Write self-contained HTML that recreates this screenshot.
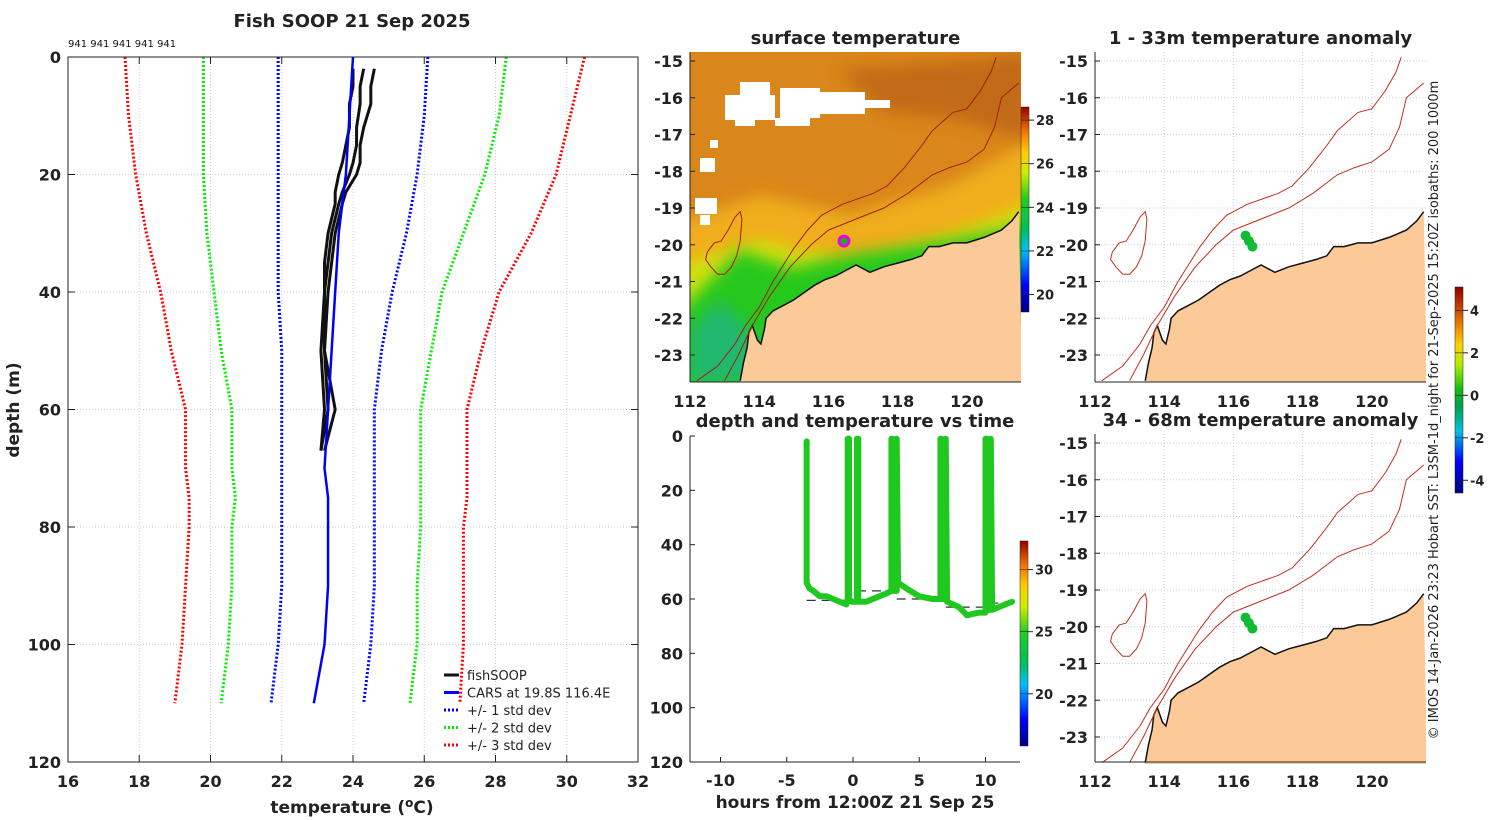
<!DOCTYPE html>
<html><head><meta charset="utf-8"><style>
body{margin:0;background:#fff;}
svg{display:block;font-family:"DejaVu Sans","Liberation Sans",sans-serif;}
.b{font-weight:bold;fill:#222;}
</style></head><body>
<svg id="s" width="1500" height="820" viewBox="0 0 1500 820" xmlns="http://www.w3.org/2000/svg">
<defs>
<linearGradient id="jet" x1="0" y1="1" x2="0" y2="0">
<stop offset="0" stop-color="#00007f"/><stop offset="0.13" stop-color="#0000ff"/><stop offset="0.3" stop-color="#00bfff"/><stop offset="0.4" stop-color="#00c060"/><stop offset="0.55" stop-color="#22cc22"/><stop offset="0.68" stop-color="#ccee00"/><stop offset="0.78" stop-color="#ffcc00"/><stop offset="0.88" stop-color="#ee7700"/><stop offset="1" stop-color="#990000"/></linearGradient>
<linearGradient id="anom" x1="0" y1="1" x2="0" y2="0">
<stop offset="0" stop-color="#00007f"/><stop offset="0.15" stop-color="#0000ff"/><stop offset="0.3" stop-color="#00c0e0"/><stop offset="0.42" stop-color="#00a050"/><stop offset="0.5" stop-color="#11bb11"/><stop offset="0.62" stop-color="#aaee00"/><stop offset="0.72" stop-color="#ffd000"/><stop offset="0.85" stop-color="#dd6600"/><stop offset="1" stop-color="#8b0000"/></linearGradient>
<filter id="bl"><feGaussianBlur stdDeviation="8"/></filter>
<clipPath id="cm"><rect x="690" y="52" width="331" height="330"/></clipPath>
</defs>
<g id="root"></g>
</svg>
<script>
// ---------- left profile data ----------
const depthStd=[0,10,20,30,40,50,60,70,75,80,90,100,110];
const minus3=[17.6,17.7,17.9,18.2,18.6,18.9,19.3,19.3,19.4,19.4,19.3,19.2,19.0];
const minus2=[19.8,19.8,19.8,19.9,20.1,20.3,20.6,20.6,20.7,20.6,20.6,20.5,20.3];
const minus1=[21.9,21.9,21.9,21.9,21.9,22.0,22.0,22.0,22.0,22.0,22.0,21.9,21.7];
const carsMean=[24.0,23.9,23.8,23.6,23.5,23.4,23.3,23.2,23.3,23.3,23.3,23.2,22.9];
const plus1=[26.1,26.0,25.8,25.5,25.1,24.8,24.6,24.6,24.6,24.6,24.6,24.5,24.3];
const plus2=[28.3,28.1,27.7,27.1,26.5,26.2,25.9,25.9,25.9,25.9,25.8,25.8,25.6];
const plus3=[30.5,30.1,29.7,29.0,28.1,27.6,27.2,27.2,27.2,27.1,27.1,27.1,27.0];
const fishDepth=[2,5,8,12,15,18,20,23,25,30,35,40,50,60,67];
const fish1=[24.6,24.5,24.5,24.3,24.2,24.2,24.1,23.8,23.7,23.5,23.4,23.3,23.2,23.5,23.2];
const fish2=[24.3,24.2,24.2,24.1,24.1,24.0,23.9,23.7,23.6,23.4,23.3,23.2,23.2,23.3,23.1];
const fish3=[24.0,24.0,23.9,23.9,23.8,23.7,23.6,23.5,23.5,23.3,23.2,23.2,23.1,23.2,23.1];
const tempTicks=[16,18,20,22,24,26,28,30,32];
const depthTicks=[0,20,40,60,80,100,120];
// ---------- time panel data ----------
const hours=[-3.5,-3.5,-3.3,-3.0,-2.5,-2.0,-1.5,-1.0,-0.5,-0.4,-0.4,-0.3,-0.3,-0.1,0.3,0.3,0.4,0.4,1.0,1.5,2.0,2.5,2.9,2.9,3.0,3.0,3.3,3.3,3.4,4.0,5.0,6.0,6.6,6.6,6.7,6.7,7.0,7.0,7.1,8.0,8.6,9.5,10.0,10.0,10.1,10.1,10.4,10.4,10.5,11.0,12.0];
const depths=[2,54,56,57,59,59,60,61,62,60,1,1,60,61,61,1,1,61,61,60,59,58,57,1,1,57,57,1,54,56,59,60,60,1,1,60,60,1,61,63,66,65,65,1,1,64,64,1,64,63,61];
const bottomStart=[-3.5,0.3,3.3,7.0,10.3];
const bottomEnd=[-0.4,2.9,6.6,10.0,12.4];
const bottomDepth=[60.5,57,60,63,61.5];
const hourTicks=[-10,-5,0,5,10];
// ---------- map data ----------
const coastLon=[113.45,113.55,113.65,113.7,113.8,113.95,114.05,114.15,114.2,114.4,114.7,115.0,115.3,115.6,115.9,116.2,116.5,116.8,117.2,117.6,118.0,118.4,118.7,118.9,119.2,119.6,120.0,120.5,121.0,121.3,121.5];
const coastLat=[-23.7,-23.2,-22.8,-22.4,-22.2,-22.6,-22.7,-22.3,-22.0,-21.8,-21.65,-21.5,-21.3,-21.1,-20.95,-20.85,-20.7,-20.55,-20.75,-20.6,-20.5,-20.4,-20.3,-20.05,-20.05,-19.95,-19.95,-19.8,-19.6,-19.35,-19.1];
const iso200Lon=[112.2,112.8,113.3,113.6,114.0,114.4,115.0,115.4,115.8,116.4,117.3,117.7,118.2,118.7,119.0,119.6,120.0,120.4,120.7,120.85];
const iso200Lat=[-23.7,-23.3,-22.7,-22.2,-21.7,-21.0,-20.1,-19.6,-19.2,-18.9,-18.6,-18.4,-17.9,-17.3,-16.9,-16.4,-16.3,-15.8,-15.3,-14.9];
const iso1000Lon=[113.0,113.4,113.8,114.3,114.9,115.5,116.0,116.8,117.6,118.3,119.0,119.5,120.0,120.5,120.8,121.0,121.5];
const iso1000Lat=[-23.7,-23.0,-22.2,-21.4,-20.6,-20.0,-19.6,-19.3,-19.0,-18.6,-18.1,-17.9,-17.75,-17.4,-16.8,-16.0,-15.6];
const islandLon=[112.5,112.7,112.9,113.1,113.3,113.45,113.5,113.45,113.35,113.2,113.0,112.8,112.6,112.45];
const islandLat=[-20.2,-19.95,-19.9,-19.6,-19.25,-19.1,-19.3,-19.9,-20.3,-20.6,-20.8,-20.8,-20.6,-20.4];
const fishLon=[116.35,116.45,116.55];
const fishLat=[-19.75,-19.9,-20.05];
const lonTicks=[112,114,116,118,120];
const latTicks=[-15,-16,-17,-18,-19,-20,-21,-22,-23];

const NS="http://www.w3.org/2000/svg";
const root=document.getElementById('root');
function el(tag,attrs,parent,txt){const e=document.createElementNS(NS,tag);for(const k in attrs)e.setAttribute(k,attrs[k]);if(txt!==undefined)e.textContent=txt;(parent||root).appendChild(e);return e;}

// ===== LEFT PANEL =====
const L={x0:68,x1:638,y0:57,y1:762};
const tx=t=>L.x0+(t-16)/16*(L.x1-L.x0);
const dy=d=>L.y0+d/120*(L.y1-L.y0);
const gL=el('g',{});


tempTicks.forEach(t=>{
 if(t>16&&t<32){const gl=el('line',{x1:tx(t),x2:tx(t),y1:L.y0,y2:L.y1,stroke:'#c8c8e8','stroke-width':1,'stroke-dasharray':'1,2'},gL);}
 el('line',{x1:tx(t),x2:tx(t),y1:L.y1,y2:L.y1-7,stroke:'#222'},gL);el('line',{x1:tx(t),x2:tx(t),y1:L.y0,y2:L.y0+7,stroke:'#222'},gL);
 const lb=el('text',{x:tx(t),y:L.y1+25,'text-anchor':'middle','font-size':16,class:'b'},gL,t);
 
});
depthTicks.forEach(d=>{
 if(d>0&&d<120){const gl=el('line',{x1:L.x0,x2:L.x1,y1:dy(d),y2:dy(d),stroke:'#c8c8e8','stroke-width':1,'stroke-dasharray':'1,2'},gL);}
 el('line',{x1:L.x0,x2:L.x0+7,y1:dy(d),y2:dy(d),stroke:'#222'},gL);el('line',{x1:L.x1,x2:L.x1-7,y1:dy(d),y2:dy(d),stroke:'#222'},gL);
 const lb=el('text',{x:L.x0-7,y:dy(d)+6,'text-anchor':'end','font-size':16,class:'b'},gL,d);
 
});
function prof(vals,ds,color,w,dash,name){
 const p=el('polyline',{points:vals.map((v,i)=>tx(v)+','+dy(ds[i])).join(' '),fill:'none',stroke:color,'stroke-width':w,'stroke-dasharray':dash||'none'},gL);
 }
prof(minus3,depthStd,'#ff0000',3,'2,2','minus-3-std-line');
prof(plus3,depthStd,'#ff0000',3,'2,2','plus-3-std-line');
prof(minus2,depthStd,'#00ee00',3,'2,2','minus-2-std-line');
prof(plus2,depthStd,'#00ee00',3,'2,2','plus-2-std-line');
prof(minus1,depthStd,'#0000ff',3,'2,2','minus-1-std-line');
prof(plus1,depthStd,'#0000ff',3,'2,2','plus-1-std-line');
prof(fish1,fishDepth,'#111',3,null,'fish-profile-1');
prof(fish2,fishDepth,'#111',3,null,'fish-profile-2');
prof(fish3,fishDepth,'#111',3,null,'fish-profile-3');
prof(carsMean,depthStd,'#0000ff',2.5,null,'cars-mean-line');
el('rect',{x:L.x0,y:L.y0,width:L.x1-L.x0,height:L.y1-L.y0,fill:'none',stroke:'#222'},gL);
let t=el('text',{x:352,y:27,'text-anchor':'middle','font-size':18,class:'b'},gL,'Fish SOOP 21 Sep 2025');
t=el('text',{x:68,y:47,'font-size':10,fill:'#111'},gL,'941 941 941 941 941');
t=el('text',{x:352,y:813,'text-anchor':'middle','font-size':17,class:'b'},gL);t.innerHTML='temperature (<tspan dy="-6" font-size="12">o</tspan><tspan dy="6">C)</tspan>';
t=el('text',{x:19,y:410,'text-anchor':'middle','font-size':17,class:'b',transform:'rotate(-90 19 410)'},gL,'depth (m)');
const leg=[['fishSOOP','#111',null],['CARS at 19.8S 116.4E','#0000ff',null],['+/- 1 std dev','#0000ff','2,2'],['+/- 2 std dev','#00ee00','2,2'],['+/- 3 std dev','#ff0000','2,2']];
leg.forEach((l,i)=>{const y=675+i*17.5;
 el('line',{x1:444,x2:459,y1:y,y2:y,stroke:l[1],'stroke-width':3,'stroke-dasharray':l[2]||'none'},gL);
 const lt=el('text',{x:467,y:y+5,'font-size':13,fill:'#222'},gL,l[0]);});

// ===== MAP helpers =====
function mapper(ox,oy){return {x:lon=>ox+(lon-112)*34.6,y:lat=>oy+(-15-lat)*36.75};}
function pts(m,lons,lats){return lons.map((v,i)=>m.x(v).toFixed(1)+','+m.y(lats[i]).toFixed(1)).join(' ');}
function land(m,g){
 const lp=el('polygon',{points:pts(m,coastLon,coastLat)+' '+m.x(121.6)+','+m.y(-23.8)+' '+m.x(113.45)+','+m.y(-23.8),fill:'#fcca98',stroke:'none'},g);
 el('polyline',{points:pts(m,coastLon,coastLat),fill:'none',stroke:'#111','stroke-width':1.5},g);
}
function drawMap(ox,oy,box,title,isSST,name){
 const g=el('g',{});
 const m=mapper(ox,oy);
 const gc=el('g',{'clip-path':'url(#cm)',transform:'translate('+(box.x-690)+','+(box.y-52)+')'},g);
 const mm=mapper(690,61);
 if(isSST){
  el('rect',{x:box.x,y:box.y,width:box.w,height:box.h,fill:'#d9861a'},gc);
  el('polygon',{points:'660,230 760,195 850,215 950,185 1050,130 1050,420 660,420',fill:'#f0ae1a',filter:'url(#bl)'},gc);
  el('polygon',{points:'660,270 760,240 850,262 950,235 1050,195 1050,420 660,420',fill:'#d2e010',filter:'url(#bl)'},gc);
  el('polygon',{points:'660,330 740,250 790,268 850,255 950,240 1050,222 1050,420 660,420',fill:'#28c81e',filter:'url(#bl)'},gc);
  el('polygon',{points:'690,330 720,300 750,330 770,380 690,385',fill:'#24b870',filter:'url(#bl)'},gc);
  el('polygon',{points:'840,70 980,60 1030,52 1030,140 960,120 880,110',fill:'#b85e12',filter:'url(#bl)',opacity:0.7},gc);
  [[725,95,50,25],[740,82,30,15],[780,88,40,30],[820,92,45,22],[860,100,30,8],[735,118,20,8],[700,158,15,14],[695,198,22,16],[700,215,10,10],[775,118,35,8],[710,140,8,8]].forEach(c=>{const r=el('rect',{x:c[0],y:c[1],width:c[2],height:c[3],fill:'#fff'},gc);});
  land(mm,gc);
  el('polyline',{points:pts(mm,iso200Lon,iso200Lat),fill:'none',stroke:'#a02010','stroke-width':1},gc);
  el('polyline',{points:pts(mm,iso1000Lon,iso1000Lat),fill:'none',stroke:'#a02010','stroke-width':1},gc);
  el('polygon',{points:pts(mm,islandLon,islandLat),fill:'none',stroke:'#a02010','stroke-width':1},gc);
  const mk=el('circle',{cx:m.x(fishLon[1]),cy:m.y(fishLat[1]),r:5,fill:'#2a2',stroke:'#e0e','stroke-width':3},g);
 } else {
  lonTicks.forEach(l=>el('line',{x1:mm.x(l),x2:mm.x(l),y1:52,y2:382,stroke:'#c8c8e8','stroke-dasharray':'1,2'},gc));
  latTicks.forEach(l=>el('line',{x1:690,x2:1021,y1:mm.y(l),y2:mm.y(l),stroke:'#c8c8e8','stroke-dasharray':'1,2'},gc));
  land(mm,gc);
  const i1=el('polyline',{points:pts(mm,iso200Lon,iso200Lat),fill:'none',stroke:'#c03020','stroke-width':1},gc);
  const i2=el('polyline',{points:pts(mm,iso1000Lon,iso1000Lat),fill:'none',stroke:'#c03020','stroke-width':1},gc);
  el('polygon',{points:pts(mm,islandLon,islandLat),fill:'none',stroke:'#c03020','stroke-width':1},gc);
  fishLon.forEach((v,i)=>{const c=el('circle',{cx:m.x(v),cy:m.y(fishLat[i]),r:5,fill:'#11bb33'},g);});
 }
 el('line',{x1:box.x,x2:box.x,y1:box.y,y2:box.y+box.h,stroke:'#222'},g);
 el('line',{x1:box.x,x2:box.x+box.w,y1:box.y+box.h,y2:box.y+box.h,stroke:'#222'},g);
 latTicks.forEach(l=>{el('line',{x1:box.x,x2:box.x+5,y1:m.y(l),y2:m.y(l),stroke:'#222'},g);
  const tl=el('text',{x:box.x-7,y:m.y(l)+6,'text-anchor':'end','font-size':16,class:'b'},g,l);});
 lonTicks.forEach(l=>{const tl=el('text',{x:m.x(l),y:box.y+box.h+25,'text-anchor':'middle','font-size':16,class:'b'},g,l);});
 const tt=el('text',{x:box.x+box.w/2,y:box.y-8,'text-anchor':'middle','font-size':18,class:'b'},g,title);
}
drawMap(690,61,{x:690,y:52,w:331,h:330},'surface temperature',true,'sst-map');
drawMap(1095,61,{x:1095,y:52,w:331,h:330},'1 - 33m temperature anomaly',false,'anomaly-map-shallow');
drawMap(1095,443,{x:1095,y:434,w:331,h:328},'34 - 68m temperature anomaly',false,'anomaly-map-deep');

function cbar(x,y0,y1,grad,vals,vmin,vmax,name){
 const g=el('g',{});
 el('rect',{x:x,y:y0,width:8,height:y1-y0,fill:'url(#'+grad+')',stroke:'#222','stroke-width':0.5},g);
 vals.forEach(v=>{const y=y1-(v-vmin)/(vmax-vmin)*(y1-y0);el('line',{x1:x+8,x2:x+13,y1:y,y2:y,stroke:'#222'},g);
 el('line',{x1:x,x2:x+8,y1:y,y2:y,stroke:'#222','stroke-width':0.6},g);
 const tl=el('text',{x:x+15,y:y+5,'font-size':13,class:'b'},g,v);});
}
cbar(1021,107,312,'jet',[20,22,24,26,28],19.2,28.6,'sst-colorbar');
cbar(1020,541,746,'jet',[20,25,30],15.8,32.3,'time-colorbar');
cbar(1455,287,493,'anom',[-4,-2,0,2,4],-4.6,5.1,'anomaly-colorbar');

// ===== TIME PANEL =====
const T={x0:690,x1:1020,y0:436,y1:762};
const hx=h=>853+h*13.25;
const hy=d=>T.y0+d/120*(T.y1-T.y0);
const gT=el('g',{});
bottomStart.forEach((s,i)=>{const b=el('line',{x1:hx(s),x2:hx(bottomEnd[i]),y1:hy(bottomDepth[i]),y2:hy(bottomDepth[i]),stroke:'#333','stroke-width':1.2,'stroke-dasharray':'9,6'},gT);});
const tr=el('polyline',{points:hours.map((h,i)=>hx(h)+','+hy(depths[i])).join(' '),fill:'none',stroke:'#1ec81e','stroke-width':6,'stroke-linejoin':'round','stroke-linecap':'round'},gT);

el('line',{x1:T.x0,x2:T.x0,y1:T.y0,y2:T.y1,stroke:'#222'},gT);
el('line',{x1:T.x0,x2:T.x1,y1:T.y1,y2:T.y1,stroke:'#222'},gT);
depthTicks.forEach(d=>{el('line',{x1:T.x0,x2:T.x0+5,y1:hy(d),y2:hy(d),stroke:'#222'},gT);
 const tl=el('text',{x:T.x0-7,y:hy(d)+6,'text-anchor':'end','font-size':16,class:'b'},gT,d);});
hourTicks.forEach(h=>{el('line',{x1:hx(h),x2:hx(h),y1:T.y1,y2:T.y1-5,stroke:'#222'},gT);
 const tl=el('text',{x:hx(h),y:T.y1+24,'text-anchor':'middle','font-size':16,class:'b'},gT,h);});
t=el('text',{x:855,y:427,'text-anchor':'middle','font-size':18,class:'b'},gT,'depth and temperature vs time');
t=el('text',{x:855,y:808,'text-anchor':'middle','font-size':17,class:'b'},gT,'hours from 12:00Z 21 Sep 25');

t=el('text',{x:1438,y:410,'text-anchor':'middle','font-size':13,fill:'#222',transform:'rotate(-90 1438 410)'},root,'© IMOS 14-Jan-2026 23:23 Hobart SST: L3SM-1d_night for 21-Sep-2025 15:20Z isobaths: 200  1000m');

</script>
</body></html>
